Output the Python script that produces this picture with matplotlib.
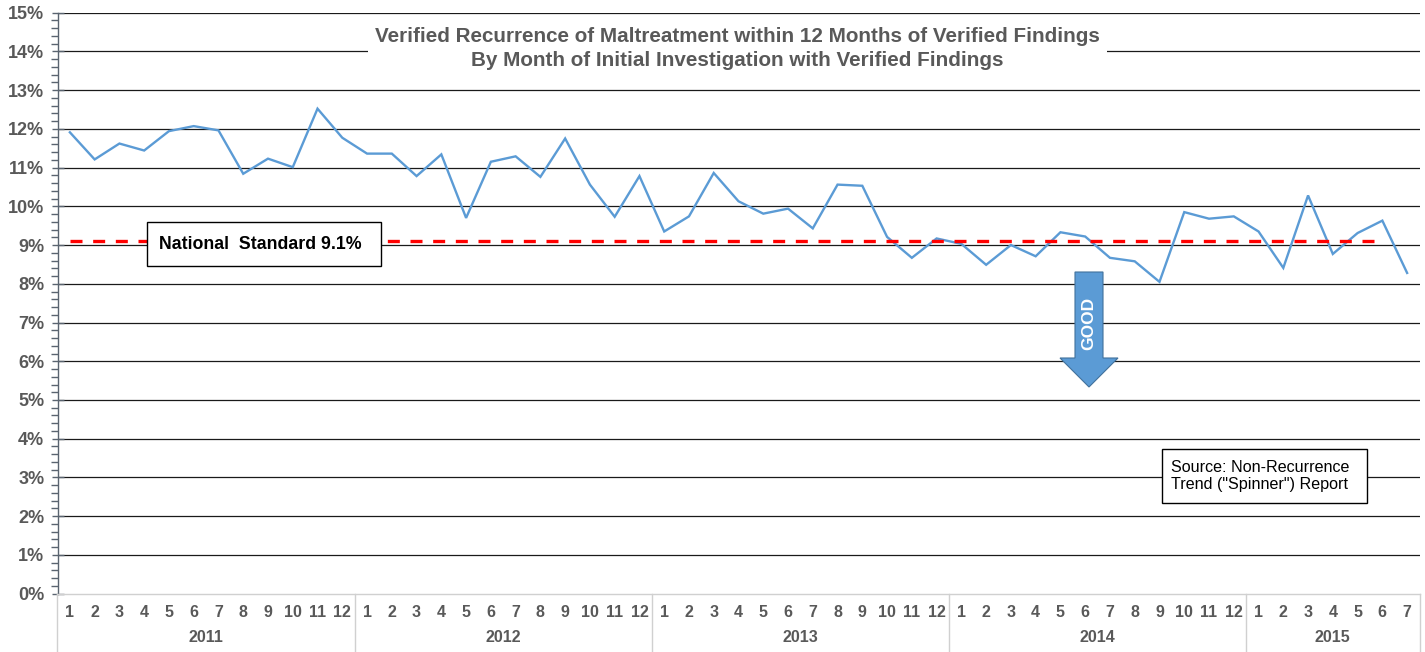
import matplotlib
matplotlib.use("Agg")
import matplotlib.pyplot as plt
from matplotlib.patches import Rectangle, Polygon
from matplotlib.transforms import blended_transform_factory
from matplotlib.ticker import MultipleLocator, FuncFormatter

plt.rcParams['font.family'] = ['Liberation Sans', 'DejaVu Sans']

# ---- data ----
years = ["2011", "2012", "2013", "2014", "2015"]
months_per_year = [12, 12, 12, 12, 7]
recurrence = [
    11.91, 11.21, 11.62, 11.44, 11.94, 12.07, 11.96, 10.84, 11.23, 11.01, 12.52, 11.77,   # 2011
    11.36, 11.36, 10.78, 11.34, 9.70, 11.15, 11.29, 10.76, 11.75, 10.56, 9.73, 10.78,    # 2012
    9.35, 9.74, 10.86, 10.13, 9.81, 9.94, 9.43, 10.56, 10.53, 9.21, 8.67, 9.17,          # 2013
    9.03, 8.49, 9.00, 8.71, 9.33, 9.22, 8.67, 8.58, 8.05, 9.85, 9.68, 9.74,              # 2014
    9.35, 8.41, 10.28, 8.77, 9.31, 9.63, 8.28,                                           # 2015
]
national_standard = 9.1
standard_months = 54  # standard line drawn through 2015-6

title_lines = ["Verified Recurrence of Maltreatment within 12 Months of Verified Findings",
               "By Month of Initial Investigation with Verified Findings"]
standard_label = "National  Standard 9.1%"
source_label = "Source: Non-Recurrence\nTrend (\"Spinner\") Report"

# ---- figure ----
W, H = 1425, 652
fig = plt.figure(figsize=(W / 100, H / 100), dpi=100)
ax_left, ax_right, ax_top, ax_bottom = 57.5, 1419.5, 12.6, 593.7
ax = fig.add_axes([ax_left / W, 1 - ax_bottom / H, (ax_right - ax_left) / W, (ax_bottom - ax_top) / H])

def fx(px):
    return px / W

def fy(py):
    return 1 - py / H

n = len(recurrence)
x = list(range(n))
month_labels = []
for m in months_per_year:
    month_labels += [str(i) for i in range(1, m + 1)]

ax.set_xlim(-0.5, n - 0.5)
ax.set_ylim(0, 15)

# gridlines
ax.yaxis.set_major_locator(MultipleLocator(1))
ax.yaxis.set_minor_locator(MultipleLocator(0.2))
for v in range(1, 16):
    ax.axhline(v, color='#1a1a1a', lw=0.9, zorder=1)

ax.plot(x, recurrence, color='#5B9BD5', lw=1.7, zorder=3, solid_joinstyle='miter')
ax.plot(x[:standard_months], [national_standard] * standard_months, color='#FF0000',
        lw=2.4, dashes=(3.6, 3.2), zorder=4)

# spines
for s in ['top', 'right']:
    ax.spines[s].set_visible(False)
ax.spines['left'].set_color('#5a6470')
ax.spines['left'].set_linewidth(1.0)
ax.spines['bottom'].set_color('#d0d0d0')
ax.spines['bottom'].set_linewidth(1.0)

ax.yaxis.set_major_formatter(FuncFormatter(lambda v, p: f"{int(round(v))}%"))
ax.tick_params(axis='y', which='major', direction='inout', length=9, width=1.0, color='#5a6470',
               labelsize=13, labelcolor='#595959', pad=5)
ax.tick_params(axis='y', which='minor', direction='out', length=5, width=1.0, color='#5a6470')
for lab in ax.get_yticklabels():
    lab.set_fontweight('bold')

ax.set_xticks(x)
ax.set_xticklabels(month_labels, fontsize=11.5, fontweight='bold', color='#595959')
ax.tick_params(axis='x', length=0, pad=8)

# year labels and separators
bt = blended_transform_factory(ax.transData, ax.transAxes)
axh = ax_bottom - ax_top
start = 0
bounds = [-0.5]
for yr, m in zip(years, months_per_year):
    center = start + (m - 1) / 2
    ax.text(center, -(638 - ax_bottom) / axh, yr, transform=bt, ha='center', va='center',
            fontsize=11.5, fontweight='bold', color='#595959')
    start += m
    bounds.append(start - 0.5)
for b in bounds:
    ax.plot([b, b], [0, -(H - ax_bottom + 2) / axh], transform=bt, color='#d0d0d0', lw=1.0,
            clip_on=False)

# title with white background
fig.patches.append(Rectangle((fx(368), fy(72)), fx(1107) - fx(368), fy(24) - fy(72),
                             transform=fig.transFigure, facecolor='white', edgecolor='none', zorder=1))
fig.text(fx(737), fy(37), title_lines[0], ha='center', va='center', fontsize=14.9,
         fontweight='bold', color='#595959', zorder=3)
fig.text(fx(737), fy(60), title_lines[1], ha='center', va='center', fontsize=14.9,
         fontweight='bold', color='#595959', zorder=3)

# national standard box
fig.patches.append(Rectangle((fx(147), fy(266)), fx(381) - fx(147), fy(222) - fy(266),
                             transform=fig.transFigure, facecolor='white', edgecolor='black',
                             lw=1.0, zorder=2))
fig.text(fx(159), fy(244), standard_label, ha='left', va='center', fontsize=12.8,
         fontweight='bold', color='black', zorder=3)

# source box
fig.patches.append(Rectangle((fx(1162), fy(503)), fx(1367) - fx(1162), fy(449) - fy(503),
                             transform=fig.transFigure, facecolor='white', edgecolor='black',
                             lw=1.0, zorder=2))
fig.text(fx(1171), fy(476), source_label, ha='left', va='center', fontsize=11.6,
         color='black', linespacing=1.1, zorder=3)

# GOOD arrow
arrow_pts = [(1075, 272), (1103, 272), (1103, 358), (1118, 358), (1089, 387),
             (1060, 358), (1075, 358)]
fig.patches.append(Polygon([(fx(px), fy(py)) for px, py in arrow_pts], closed=True,
                           transform=fig.transFigure, facecolor='#5B9BD5', edgecolor='#41719C',
                           lw=0.8, zorder=2))
fig.text(fx(1089), fy(323), "GOOD", ha='center', va='center', rotation=90, fontsize=12.5,
         fontweight='bold', color='white', zorder=3)

fig.savefig("out.png", dpi=100)
